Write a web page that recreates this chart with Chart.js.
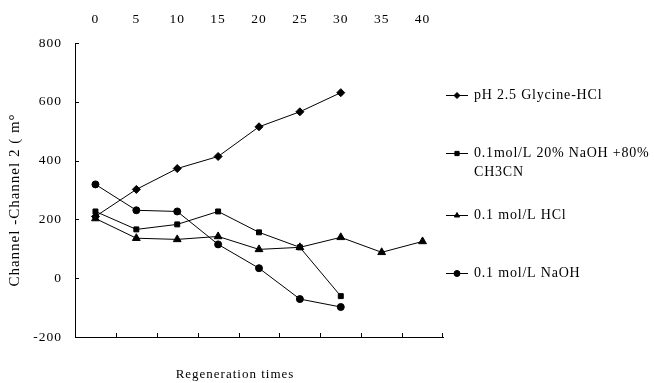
<!DOCTYPE html>
<html>
<head>
<meta charset="utf-8">
<script src="https://cdn.jsdelivr.net/npm/chart.js@4.4.1/dist/chart.umd.min.js"></script>
<style>
  html, body { margin: 0; padding: 0; background: #fff; }
</style>
</head>
<body>
<canvas id="regenChart" width="654" height="383"></canvas>
<script>
// data
const regenTimes = ['0', '5', '10', '15', '20', '25', '30', '35', '40'];
const glycineHCl = [210, 302, 373, 414, 515, 566, 631, null, null];
const naohCh3cn = [227, 166, 183, 227, 156, 105, -61, null, null];
const hcl = [203, 136, 132, 142, 98, 105, 139, 88, 125];
const naoh = [319, 231, 227, 115, 34, -71, -98, null, null];
const seriesNames = [
    ['pH 2.5 Glycine-HCl'],
    ['0.1mol/L 20% NaOH +80%', 'CH3CN'],
    ['0.1 mol/L HCl'],
    ['0.1 mol/L NaOH']
];
const yMin = -200;
const yMax = 800;
const yStep = 200;

const serif = "'Liberation Serif', 'Times New Roman', serif";
const legendRows = [95, 153, 215, 273];

const makeSet = (label, data, pointStyle, radius) => ({
    label,
    data,
    pointStyle,
    pointRadius: radius,
    borderColor: '#000',
    backgroundColor: '#000',
    pointBackgroundColor: '#000',
    pointBorderColor: '#000',
    borderWidth: 1,
    pointBorderWidth: 1,
    tension: 0,
    spanGaps: false,
});

// inward tick marks, axis titles and the side legend
const extras = {
    id: 'extras',
    beforeUpdate(chart) { chart.ctx.letterSpacing = '1px'; },
    beforeDraw(chart) { chart.ctx.letterSpacing = '1px'; },
    afterDraw(chart) {
        const { ctx, chartArea: a, scales: { x, y } } = chart;
        ctx.save();
        ctx.strokeStyle = '#000';
        ctx.fillStyle = '#000';
        ctx.lineWidth = 1;

        ctx.beginPath();
        for (let i = 1; i < regenTimes.length; i++) {
            const px = Math.round((x.getPixelForTick(i - 1) + x.getPixelForTick(i)) / 2) + 0.5;
            ctx.moveTo(px, a.bottom);
            ctx.lineTo(px, a.bottom - 4);
        }
        ctx.moveTo(a.right - 0.5, a.bottom);
        ctx.lineTo(a.right - 0.5, a.bottom - 4);
        y.ticks.forEach(t => {
            const py = Math.round(y.getPixelForValue(t.value)) + 0.5;
            ctx.moveTo(a.left, py);
            ctx.lineTo(a.left + 4, py);
        });
        ctx.stroke();

        ctx.letterSpacing = '1px';
        ctx.textBaseline = 'middle';
        ctx.textAlign = 'center';
        ctx.font = '13px ' + serif;
        ctx.fillText('Regeneration times', 235, 375);
        ctx.save();
        ctx.font = '15px ' + serif;
        ctx.translate(15, 200);
        ctx.rotate(-Math.PI / 2);
        ctx.fillText('Channel -Channel 2 ( m\u00b0', 0, 0);
        ctx.restore();

        ctx.textAlign = 'left';
        ctx.font = '14px ' + serif;
        ctx.letterSpacing = '0.8px';
        chart.data.datasets.forEach((ds, i) => {
            const ly = legendRows[i] + 0.5;
            ctx.beginPath();
            ctx.moveTo(446, ly);
            ctx.lineTo(468, ly);
            ctx.stroke();
            Chart.helpers.drawPoint(ctx, {
                pointStyle: ds.pointStyle, radius: 3, rotation: 0, borderWidth: 1
            }, 457, ly);
            seriesNames[i].forEach((line, j) => ctx.fillText(line, 474, legendRows[i] + j * 19));
        });
        ctx.restore();
    }
};

new Chart(document.getElementById('regenChart').getContext('2d'), {
    type: 'line',
    data: {
        labels: regenTimes,
        datasets: [
            makeSet(seriesNames[0].join(' '), glycineHCl, 'rectRot', 4),
            makeSet(seriesNames[1].join(' '), naohCh3cn, 'rect', 3.5),
            makeSet(seriesNames[2].join(' '), hcl, 'triangle', 4.5),
            makeSet(seriesNames[3].join(' '), naoh, 'circle', 3.5),
        ]
    },
    options: {
        responsive: false,
        animation: false,
        layout: { padding: { left: 0, right: 211, top: 0, bottom: 46 } },
        plugins: { legend: { display: false }, tooltip: { enabled: false } },
        scales: {
            x: {
                type: 'category',
                position: 'bottom',
                offset: true,
                grid: { display: false, drawTicks: false },
                border: { display: true, color: '#000', width: 1 },
                ticks: { display: false },
                afterFit: s => { s.height = 0; },
            },
            xTop: {
                type: 'category',
                labels: regenTimes,
                position: 'top',
                offset: true,
                grid: { display: false, drawTicks: false },
                border: { display: false },
                ticks: { color: '#000', font: { family: serif, size: 13.5 }, padding: 15, maxRotation: 0, autoSkip: false },
                afterFit: s => { s.height = 43; },
            },
            y: {
                min: yMin,
                max: yMax,
                grid: { display: false, drawTicks: false },
                border: { display: true, color: '#000', width: 1 },
                ticks: { stepSize: yStep, color: '#000', font: { family: serif, size: 13.5 }, padding: 13 },
                afterFit: s => { s.width = 75; },
            }
        }
    },
    plugins: [extras]
});
</script>
</body>
</html>
